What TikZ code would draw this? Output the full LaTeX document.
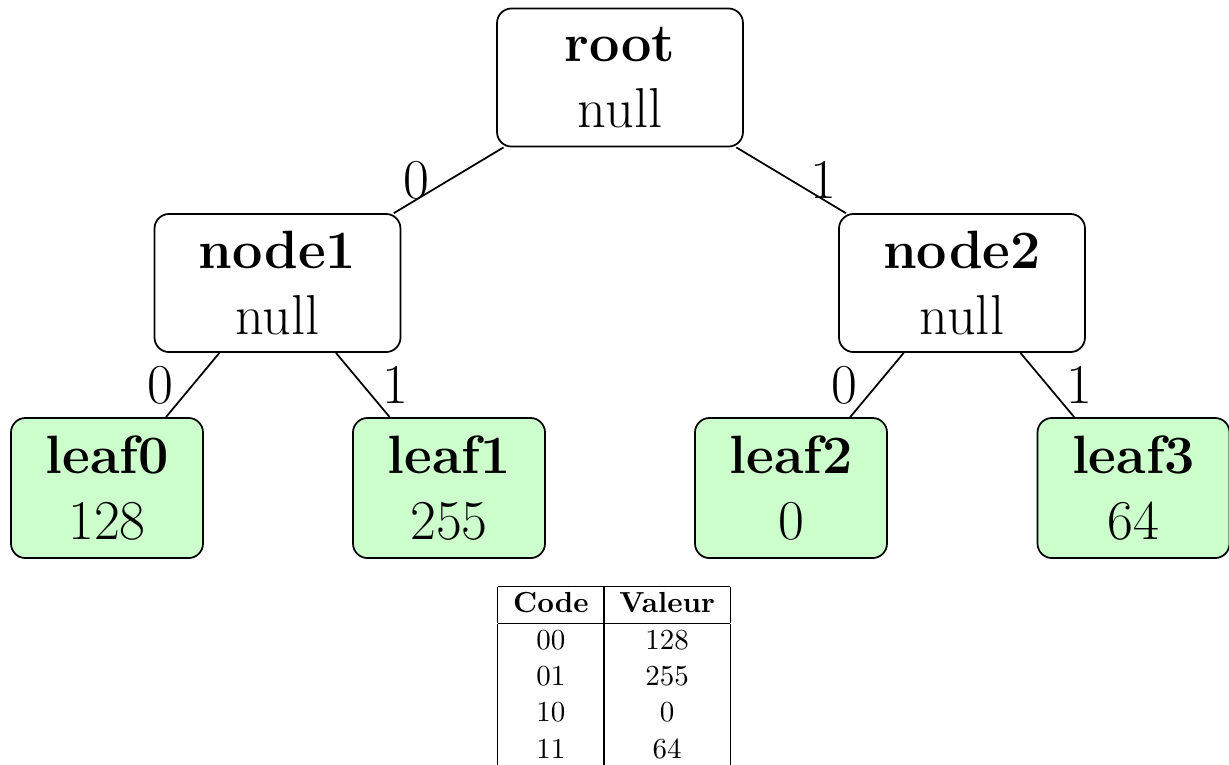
\documentclass[tikz,border=0pt]{standalone}
\definecolor{leafgreen}{RGB}{204,255,204}
\newcommand{\nm}[1]{{\fontsize{18.6}{22.5}\selectfont\bfseries #1}}
\newcommand{\vl}[1]{{\fontsize{19.4}{22.5}\selectfont #1}}
\tikzset{
  inner/.style={draw, rounded corners=5pt, semithick, align=center,
    font=\fontsize{19.4}{22.5}\selectfont,
    minimum width=84.8pt, minimum height=47.6pt, inner sep=0pt},
  leaf/.style={inner, fill=leafgreen, minimum width=66.2pt, minimum height=48.3pt},
  lbl/.style={font=\fontsize{19.4}{22.5}\selectfont, inner sep=6.4pt},
  link/.style={semithick}
}
\begin{document}
\begin{tikzpicture}[x=0.3448pt,y=-0.3448pt]
\useasboundingbox (0,0) rectangle (1229,764);
\node[inner] (root)  at (620,77.5) {\nm{root}\\\vl{null}};
\node[inner] (node1) at (277.5,283) {\nm{node1}\\\vl{null}};
\node[inner] (node2) at (962,283) {\nm{node2}\\\vl{null}};
\node[leaf] (leaf0) at (107,488) {\nm{leaf0}\\\vl{128}};
\node[leaf] (leaf1) at (449,488) {\nm{leaf1}\\\vl{255}};
\node[leaf] (leaf2) at (791,488) {\nm{leaf2}\\\vl{0}};
\node[leaf] (leaf3) at (1133.5,488) {\nm{leaf3}\\\vl{64}};
\draw[link] (root) -- node[lbl, left] (e0) {0} (node1);
\draw[link] (root) -- node[lbl, right] (e1) {1} (node2);
\draw[link] (node1) -- node[lbl, left] (e00) {0} (leaf0);
\draw[link] (node1) -- node[lbl, right] (e01) {1} (leaf1);
\draw[link] (node2) -- node[lbl, left] (e10) {0} (leaf2);
\draw[link] (node2) -- node[lbl, right] (e11) {1} (leaf3);
\node[anchor=north, inner sep=0pt] (table) at (614,585) {%
\renewcommand{\arraystretch}{1.04}\setlength{\tabcolsep}{5.3pt}%
\begin{tabular}{|c|c|}
\hline
\textbf{Code} & \textbf{Valeur}\\
\hline
00 & 128\\
01 & 255\\
10 & 0\\
11 & 64\\
\hline
\end{tabular}};
\end{tikzpicture}
\end{document}
